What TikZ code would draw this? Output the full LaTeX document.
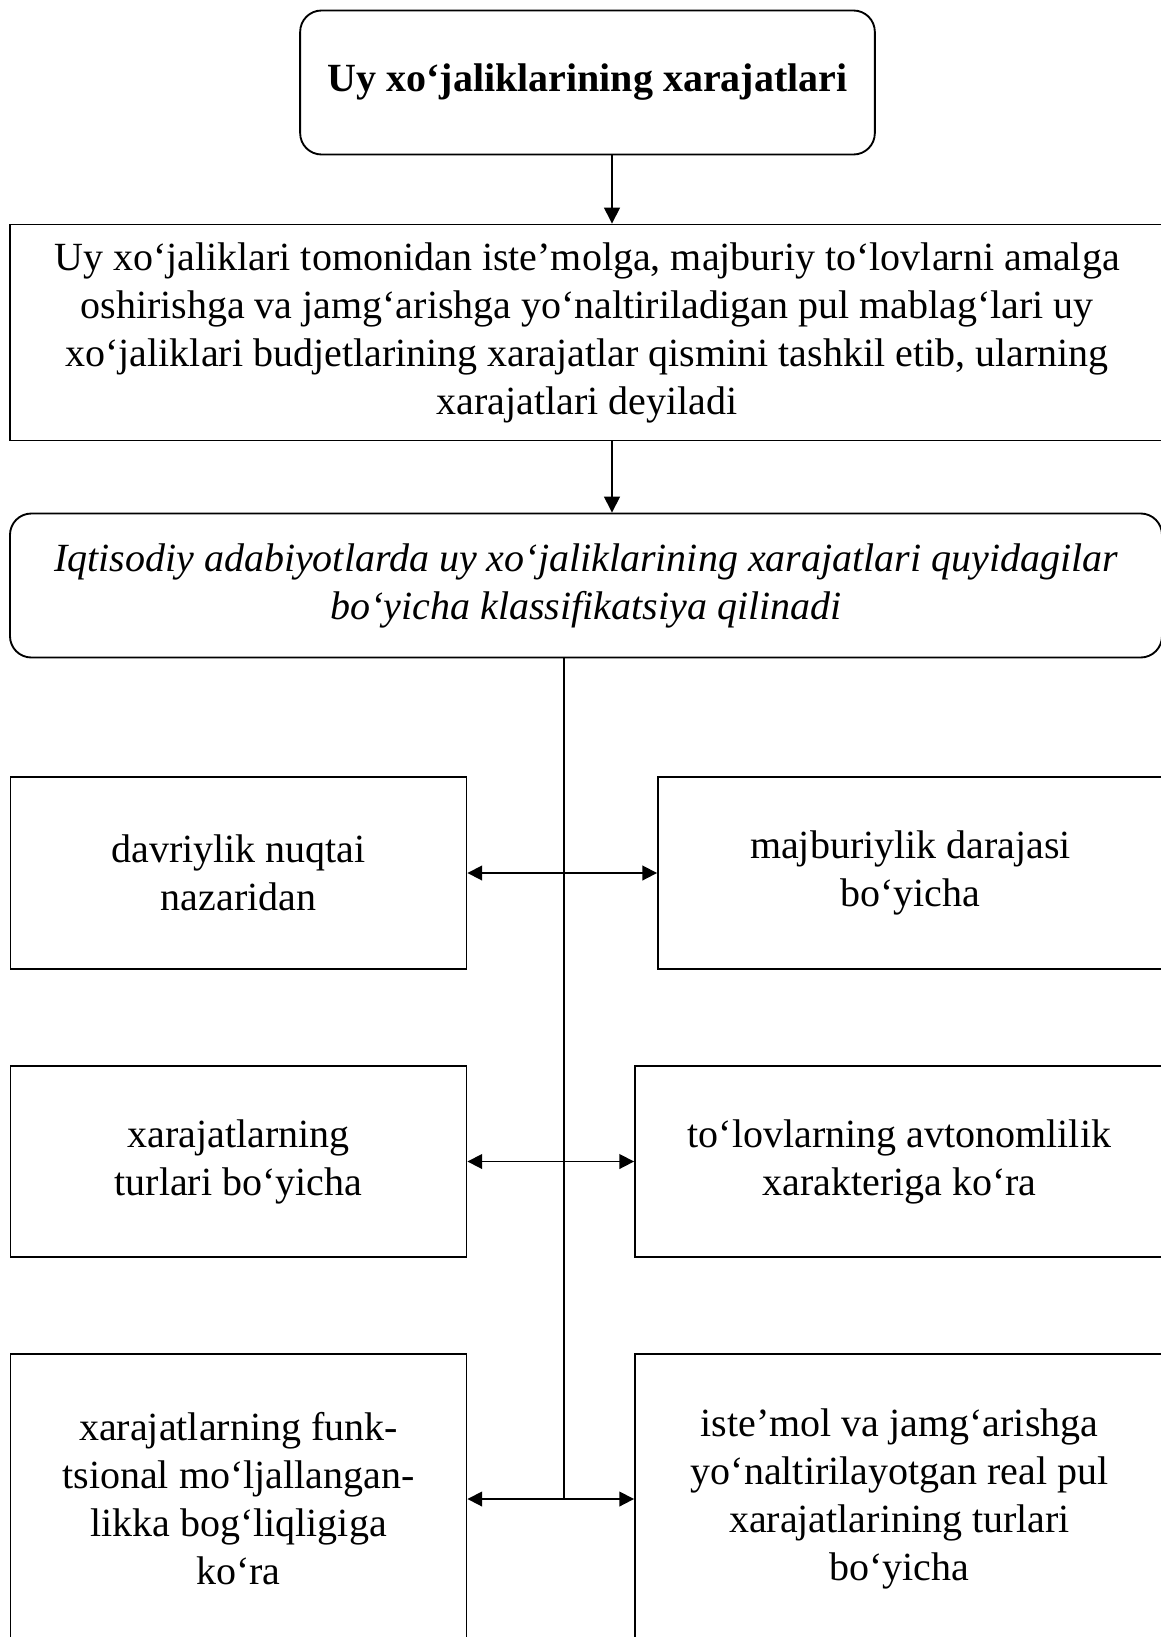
\documentclass[tikz,border=0pt]{standalone}
\usepackage{fontspec}
\setmainfont{Liberation Serif}
\usetikzlibrary{arrows.meta,positioning}
\tikzset{
  box/.style={draw,line width=1.4pt,align=center,inner sep=0pt,
              font=\fontsize{30}{36}\selectfont},
  rbox/.style={box,rounded corners=16pt},
  arrow/.style={-{Triangle[length=12pt,width=12pt]},line width=1pt},
  dblarrow/.style={{Triangle[length=11pt,width=11pt]}-{Triangle[length=11pt,width=11pt]},line width=1.3pt},
  trunk/.style={line width=1pt},
}

\begin{document}
\begin{tikzpicture}[x=0.75pt,y=-0.75pt]
\useasboundingbox (0,0) rectangle (1160,1637);
\node[rbox,minimum width=431pt,minimum height=108pt,font=\fontsize{30}{36}\selectfont\bfseries] (top) at (587.5,82.5)
  {Uy xo‘jaliklarining xarajatlari};
\node[box,minimum width=865.5pt,minimum height=162pt] (def) at (587,332.5)
  {Uy xo‘jaliklari tomonidan iste’molga, majburiy to‘lovlarni amalga\\
   oshirishga va jamg‘arishga yo‘naltiriladigan pul mablag‘lari uy\\
   xo‘jaliklari budjetlarining xarajatlar qismini tashkil etib, ularning\\
   xarajatlari deyiladi};
\node[rbox,minimum width=864pt,minimum height=108pt,font=\fontsize{30}{36}\selectfont\itshape] (cls) at (586,585.5)
  {Iqtisodiy adabiyotlarda uy xo‘jaliklarining xarajatlari quyidagilar\\
   bo‘yicha klassifikatsiya qilinadi};
\node[box,minimum width=342pt,minimum height=144pt] (per) at (238.5,873)
  {davriylik nuqtai\\nazaridan};
\node[box,minimum width=378.75pt,minimum height=144pt] (obl) at (910.5,873)
  {majburiylik darajasi\\bo‘yicha};
\node[box,minimum width=342pt,minimum height=143.5pt] (typ) at (238.5,1161.5)
  {xarajatlarning\\turlari bo‘yicha};
\node[box,minimum width=396.75pt,minimum height=143.5pt] (aut) at (899.5,1161.5)
  {to‘lovlarning avtonomlilik\\xarakteriga ko‘ra};
\node[box,minimum width=342pt,minimum height=217.5pt] (fun) at (238.5,1499)
  {xarajatlarning funk-\\tsional mo‘ljallangan-\\likka bog‘liqligiga\\ko‘ra};
\node[box,minimum width=396.75pt,minimum height=217.5pt] (rea) at (899.5,1499)
  {iste’mol va jamg‘arishga\\yo‘naltirilayotgan real pul\\xarajatlarining turlari\\bo‘yicha};
\coordinate (ax) at (612,0);
\coordinate (vx) at (564,0);
\draw[arrow] (top.south -| ax) -- (def.north -| ax);
\draw[arrow] (def.south -| ax) -- (cls.north -| ax);
\draw[trunk] (cls.south -| vx) -- (fun.east -| vx);
\draw[dblarrow] (per.east) -- (obl.west);
\draw[dblarrow] (typ.east) -- (aut.west);
\draw[dblarrow] (fun.east) -- (rea.west);
\end{tikzpicture}
\end{document}
